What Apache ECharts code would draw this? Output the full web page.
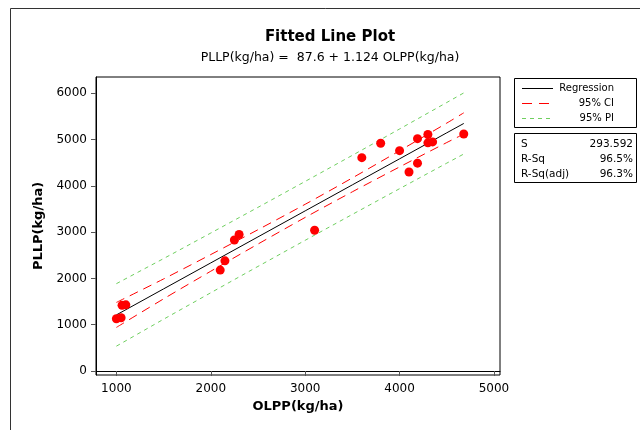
<!DOCTYPE html>
<html>
<head>
<meta charset="utf-8">
<script src="https://cdn.jsdelivr.net/npm/echarts@6/dist/echarts.min.js"></script>
<style>html,body{margin:0;padding:0;background:#fff;}#c{width:640px;height:430px;}</style>
</head>
<body>
<div id="c"></div>
<script>
// Observed data points (OLPP, PLLP)
const olpp = [1000, 1050, 1060, 1100, 2100, 2150, 2250, 2300, 3100, 3600, 3800, 4000, 4100, 4190, 4190, 4300, 4300, 4350, 4680];
const pllp = [1130, 1150, 1420, 1430, 2180, 2380, 2830, 2950, 3040, 4610, 4920, 4760, 4300, 4490, 5020, 5110, 4930, 4950, 5120];

// Curves read at these x positions
const curveX     = [1000, 1500, 2000, 2500, 3000, 3500, 4000, 4500, 4680];
const regression = [1212, 1774, 2336, 2898, 3460, 4022, 4584, 5146, 5348];
const ciUpper    = [1482, 1989, 2516, 3053, 3602, 4172, 4759, 5356, 5578];
const ciLower    = [942, 1559, 2156, 2743, 3318, 3872, 4409, 4936, 5118];
const piUpper    = [1887, 2429, 2981, 3536, 4096, 4660, 5229, 5801, 6008];
const piLower    = [537, 1119, 1691, 2260, 2824, 3384, 3939, 4491, 4688];

const xTicks = [1000, 2000, 3000, 4000, 5000];
const yTicks = [0, 1000, 2000, 3000, 4000, 5000, 6000];

const legendItems = ['Regression', '95% CI', '95% PI'];
const statLabels = ['S', 'R-Sq', 'R-Sq(adj)'];
const statValues = ['293.592', '96.5%', '96.3%'];

const pair = (xs, ys) => xs.map((x, i) => [x, ys[i]]);

const chart = echarts.init(document.getElementById('c'), null, {renderer: 'canvas'});
const FONT = 'DejaVu Sans';
const RED = '#ff0000', GREEN = '#6fcf5f';

const graphic = [
  {type: 'rect', shape: {x: 10.5, y: 8.5, width: 700, height: 500}, style: {fill: 'none', stroke: '#333', lineWidth: 1}, silent: true},
  {type: 'text', x: 330, y: 37, style: {text: 'Fitted Line Plot', font: 'bold 15px ' + FONT, fill: '#000', align: 'center', verticalAlign: 'middle'}},
  {type: 'text', x: 330, y: 58, style: {text: 'PLLP(kg/ha) =  87.6 + 1.124 OLPP(kg/ha)', font: '12.5px ' + FONT, fill: '#000', align: 'center', verticalAlign: 'middle'}},
  {type: 'rect', shape: {x: 514.5, y: 78.5, width: 122, height: 49}, style: {fill: '#fff', stroke: '#000', lineWidth: 1}},
  {type: 'rect', shape: {x: 514.5, y: 133.5, width: 122, height: 49}, style: {fill: '#fff', stroke: '#000', lineWidth: 1}}
];
const legendStyles = [
  {stroke: '#000', lineDash: null},
  {stroke: RED, lineDash: [10, 7]},
  {stroke: GREEN, lineDash: [4, 4]}
];
legendItems.forEach((t, i) => {
  const y = 88 + i * 15;
  graphic.push({type: 'line', shape: {x1: 522, y1: y + 0.5, x2: 553, y2: y + 0.5}, style: {stroke: legendStyles[i].stroke, lineWidth: 1, lineDash: legendStyles[i].lineDash}});
  graphic.push({type: 'text', x: 614, y: y, style: {text: t, font: '10px ' + FONT, fill: '#000', align: 'right', verticalAlign: 'middle'}});
});
statLabels.forEach((t, i) => {
  const y = 144 + i * 15;
  graphic.push({type: 'text', x: 521, y: y, style: {text: t, font: '10.5px ' + FONT, fill: '#000', align: 'left', verticalAlign: 'middle'}});
  graphic.push({type: 'text', x: 633, y: y, style: {text: statValues[i], font: '10.5px ' + FONT, fill: '#000', align: 'right', verticalAlign: 'middle'}});
});

const axisCommon = {
  axisLine: {show: true, lineStyle: {color: '#000', width: 1}},
  splitLine: {show: false},
  nameTextStyle: {fontFamily: FONT, fontWeight: 'bold', fontSize: 13, color: '#000'}
};
const plain = v => String(v);

chart.setOption({
  backgroundColor: '#fff',
  animation: false,
  grid: {left: 96, top: 77, width: 404, height: 298, show: true, borderColor: '#000', borderWidth: 1, backgroundColor: '#fff'},
  xAxis: Object.assign({}, axisCommon, {
    type: 'value', min: 784, max: 5064,
    name: 'OLPP(kg/ha)', nameLocation: 'middle', nameGap: 19,
    axisTick: {show: true, length: 5, lineStyle: {color: '#555'}, customValues: xTicks},
    axisLabel: {customValues: xTicks, formatter: plain, margin: 8, fontFamily: FONT, fontSize: 12, color: '#000'}
  }),
  yAxis: Object.assign({}, axisCommon, {
    type: 'value', min: -86, max: 6352,
    name: 'PLLP(kg/ha)', nameLocation: 'middle', nameGap: 51,
    axisTick: {show: true, length: 5, lineStyle: {color: '#555'}, customValues: yTicks},
    axisLabel: {customValues: yTicks, formatter: plain, margin: 9, fontFamily: FONT, fontSize: 12, color: '#000'}
  }),
  series: [
    {type: 'line', data: pair(curveX, piUpper), symbol: 'none', lineStyle: {color: GREEN, width: 1, type: [4, 4]}, z: 2},
    {type: 'line', data: pair(curveX, piLower), symbol: 'none', lineStyle: {color: GREEN, width: 1, type: [4, 4]}, z: 2},
    {type: 'line', data: pair(curveX, ciUpper), symbol: 'none', smooth: 0.3, lineStyle: {color: RED, width: 1, type: [9, 6]}, z: 2},
    {type: 'line', data: pair(curveX, ciLower), symbol: 'none', smooth: 0.3, lineStyle: {color: RED, width: 1, type: [9, 6]}, z: 2},
    {type: 'line', data: pair(curveX, regression), symbol: 'none', lineStyle: {color: '#000', width: 1}, z: 3},
    {type: 'scatter', data: pair(olpp, pllp), symbol: 'circle', symbolSize: 9, itemStyle: {color: RED, opacity: 1}, z: 4}
  ],
  graphic: graphic
});
</script>
</body>
</html>
